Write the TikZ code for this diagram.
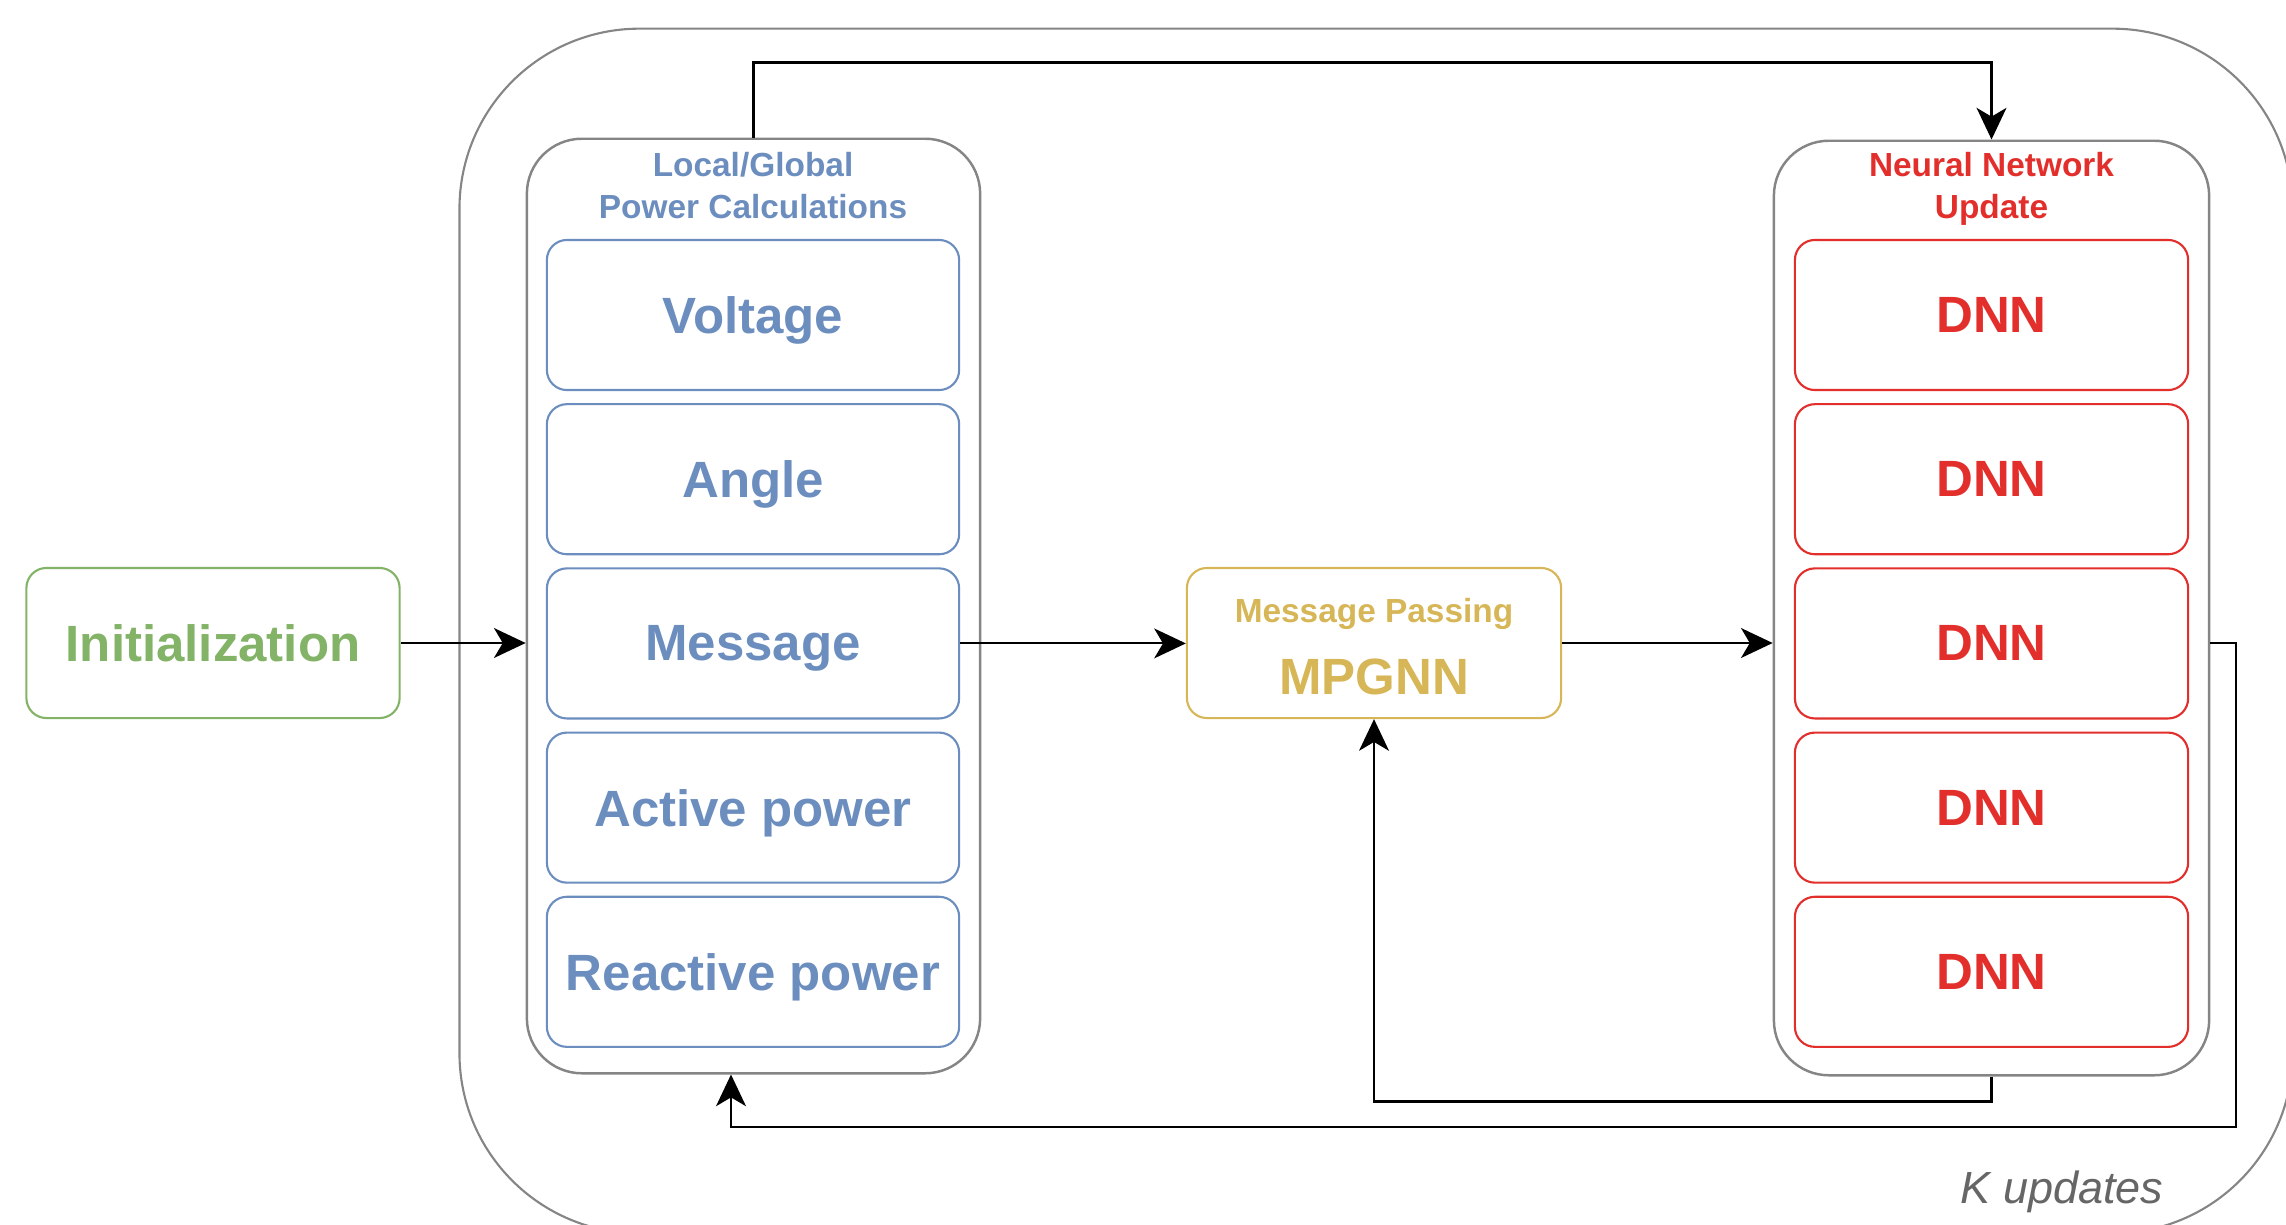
\documentclass[tikz,border=0pt]{standalone}
\usepackage{fontspec}
\setmainfont{Liberation Sans}
\usepackage{tikz}
\usetikzlibrary{arrows.meta,positioning,calc}
\definecolor{calcblue}{HTML}{6C8EBF}
\definecolor{dnnred}{HTML}{E22F2B}
\definecolor{initgreen}{HTML}{82B366}
\definecolor{mpyellow}{HTML}{D6B656}
\definecolor{framegray}{HTML}{858585}
\definecolor{notegray}{HTML}{666666}

\begin{document}
\begin{tikzpicture}[
  x=0.01cm, y=-0.01cm,
  node distance=0.12cm,
  >={Stealth[length=9pt,width=8.5pt,inset=2.5pt]},
  box/.style={rectangle,draw,line width=0.6pt,rounded corners=0.2cm,minimum height=1.5cm,align=center,inner sep=0pt,text depth=0pt,font=\fontsize{14.5}{17}\selectfont\bfseries},
  calcbox/.style={box,draw=calcblue,text=calcblue,minimum width=4.12cm},
  dnnbox/.style={box,draw=dnnred,text=dnnred,minimum width=3.93cm},
  groupbox/.style={rectangle,draw=framegray,line width=0.7pt,rounded corners=0.55cm,minimum height=9.34cm},
  grouptitle/.style={anchor=north,align=center,inner sep=0pt,font=\fontsize{9.5}{11.7}\selectfont\bfseries},
  link/.style={->,line width=0.6pt},
]
\useasboundingbox (0,0) rectangle (2286,1224);

% Update loop frame
\begin{scope}
  \clip (0,0) rectangle (2286,1224);
  \node[rectangle,draw=framegray,line width=0.6pt,rounded corners=1.8cm,minimum width=18.32cm,minimum height=12.04cm] (kloop) at (1376,631) {};
\end{scope}
\node[anchor=base,text=notegray,font=\fontsize{12.8}{15}\selectfont\itshape] (kupd) at (2062,1203) {K updates};

% Initialization
\node[box,draw=initgreen,text=initgreen,minimum width=3.73cm] (init) at (213,643) {Initialization};

% Local/Global power calculations
\node[groupbox,minimum width=4.53cm] (lpc) at (753.5,606) {};
\node[grouptitle,text=calcblue] (lpct) at (753,152) {Local/Global\\Power Calculations};
\node[calcbox] (volt) at (753,315) {Voltage};
\node[calcbox,below=of volt] (ang) {Angle};
\node[calcbox,below=of ang] (msg) {Message};
\node[calcbox,below=of msg] (pact) {Active power};
\node[calcbox,below=of pact] (preact) {Reactive power};

% Message passing
\node[box,draw=mpyellow,minimum width=3.74cm] (mpgnn) at (1374,643) {};
\node[grouptitle,text=mpyellow] (mpt) at (1374,598) {Message Passing};
\node[anchor=north,inner sep=0pt,text=mpyellow,font=\fontsize{14.5}{17}\selectfont\bfseries] (mpl) at (1374,658) {MPGNN};

% Neural network update
\node[groupbox,minimum width=4.35cm] (nnu) at (1991.5,608) {};
\node[grouptitle,text=dnnred] (nnut) at (1991.5,152) {Neural Network\\Update};
\node[dnnbox] (dnn1) at (1991.5,315) {DNN};
\node[dnnbox,below=of dnn1] (dnn2) {DNN};
\node[dnnbox,below=of dnn2] (dnn3) {DNN};
\node[dnnbox,below=of dnn3] (dnn4) {DNN};
\node[dnnbox,below=of dnn4] (dnn5) {DNN};

\coordinate (back) at (731,1127);

% Forward flow
\draw[link] (init.east) -- (init -| lpc.west);
\draw[link] (msg.east) -- (msg -| mpgnn.west);
\draw[link] (mpgnn.east) -- (mpgnn -| nnu.west);
\draw[link] (lpc.north) -- ++(0,-75) -| (nnu.north);

% Feedback
\draw[link] (nnu.south) -- ++(0,25) -| (mpgnn.south);
\draw[link] (dnn3 -| nnu.east) -- ++(26,0) |- (back) -- (back |- lpc.south);

\end{tikzpicture}
\end{document}
